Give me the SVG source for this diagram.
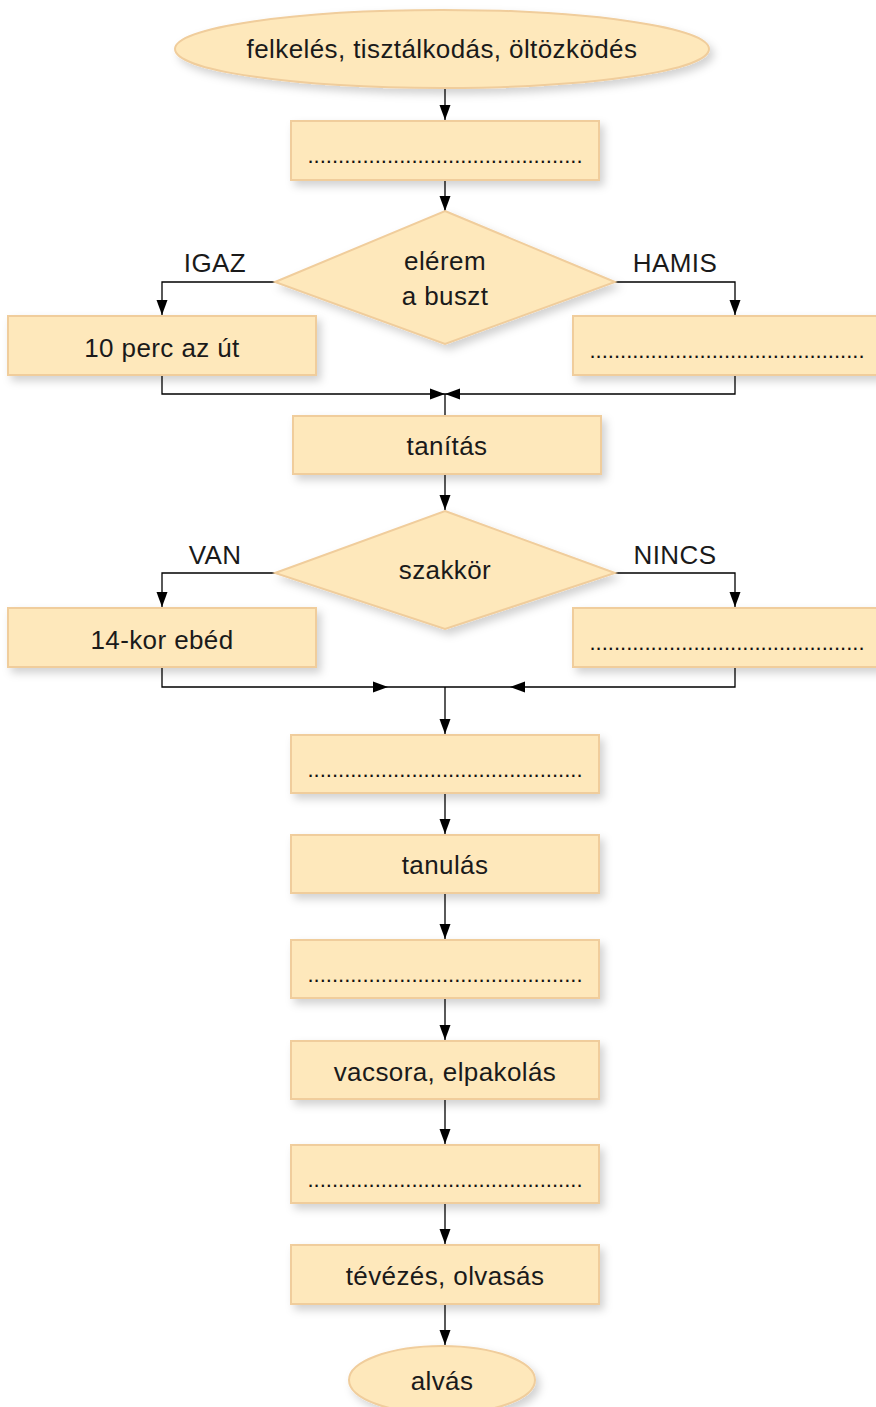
<svg xmlns="http://www.w3.org/2000/svg" width="876" height="1407" viewBox="0 0 876 1407">
<defs>
<filter id="sh" x="-10%" y="-20%" width="130%" height="160%">
<feDropShadow dx="4" dy="5" stdDeviation="4" flood-color="#000" flood-opacity="0.18"/>
</filter>
<marker id="ah" markerWidth="16" markerHeight="12" viewBox="0 0 15 12" refX="15" refY="6" orient="auto" markerUnits="userSpaceOnUse">
<path d="M0,0.5 L15,6 L0,11.5 Z" fill="#000"/>
</marker>
<style>
.n{fill:#fee8bb;stroke:#f0cd9c;stroke-width:2;filter:url(#sh)}
.t{font-family:"Liberation Sans",Arial,sans-serif;font-size:26px;letter-spacing:0.4px;fill:#1a1a1a;text-anchor:middle}
.d{font-family:"Liberation Sans",Arial,sans-serif;font-size:22px;fill:#111;text-anchor:middle}
.c{fill:none;stroke:#000;stroke-width:1.3}
</style>
</defs>
<rect width="876" height="1407" fill="#fff"/>
<g id="connectors">
<path class="c" d="M445,88 V120" marker-end="url(#ah)"/>
<path class="c" d="M445,180 V211" marker-end="url(#ah)"/>
<path class="c" d="M275,282 H162 V315" marker-end="url(#ah)"/>
<path class="c" d="M615,282 H735 V315" marker-end="url(#ah)"/>
<path class="c" d="M162,375 V394 H445" marker-end="url(#ah)"/>
<path class="c" d="M735,375 V394 H445" marker-end="url(#ah)"/>
<path class="c" d="M445,394 V416"/>
<path class="c" d="M445,474 V510" marker-end="url(#ah)"/>
<path class="c" d="M275,573 H162 V607" marker-end="url(#ah)"/>
<path class="c" d="M615,573 H735 V607" marker-end="url(#ah)"/>
<path class="c" d="M162,667 V687 H388" marker-end="url(#ah)"/>
<path class="c" d="M388,687 H445"/>
<path class="c" d="M735,667 V687 H510" marker-end="url(#ah)"/>
<path class="c" d="M510,687 H445"/>
<path class="c" d="M445,687 V734" marker-end="url(#ah)"/>
<path class="c" d="M445,793 V834" marker-end="url(#ah)"/>
<path class="c" d="M445,893 V939" marker-end="url(#ah)"/>
<path class="c" d="M445,998 V1040" marker-end="url(#ah)"/>
<path class="c" d="M445,1099 V1144" marker-end="url(#ah)"/>
<path class="c" d="M445,1203 V1244" marker-end="url(#ah)"/>
<path class="c" d="M445,1304 V1345" marker-end="url(#ah)"/>
</g>
<g id="start">
<ellipse class="n" cx="442" cy="49" rx="267" ry="39"/>
<text class="t" x="442" y="58">felkelés, tisztálkodás, öltözködés</text>
</g>
<g id="box1">
<rect class="n" x="291" y="121" width="308" height="59"/>
<text class="d" x="445" y="163">.............................................</text>
</g>
<g id="dec1">
<path class="n" d="M445,211 L615,282 L445,344 L275,282 Z"/>
<text class="t" x="445" y="270">elérem</text>
<text class="t" x="445" y="305">a buszt</text>
<text class="t" x="215" y="272">IGAZ</text>
<text class="t" x="675" y="272">HAMIS</text>
</g>
<g id="box-igaz">
<rect class="n" x="8" y="316" width="308" height="59"/>
<text class="t" x="162" y="357">10 perc az út</text>
</g>
<g id="box-hamis">
<rect class="n" x="573" y="316" width="308" height="59"/>
<text class="d" x="727" y="358">.............................................</text>
</g>
<g id="tanitas">
<rect class="n" x="293" y="416" width="308" height="58"/>
<text class="t" x="447" y="455">tanítás</text>
</g>
<g id="dec2">
<path class="n" d="M445,511 L615,573 L445,629 L275,573 Z"/>
<text class="t" x="445" y="579">szakkör</text>
<text class="t" x="215" y="564">VAN</text>
<text class="t" x="675" y="564">NINCS</text>
</g>
<g id="box-van">
<rect class="n" x="8" y="608" width="308" height="59"/>
<text class="t" x="162" y="649">14-kor ebéd</text>
</g>
<g id="box-nincs">
<rect class="n" x="573" y="608" width="308" height="59"/>
<text class="d" x="727" y="650">.............................................</text>
</g>
<g id="box2">
<rect class="n" x="291" y="735" width="308" height="58"/>
<text class="d" x="445" y="777">.............................................</text>
</g>
<g id="tanulas">
<rect class="n" x="291" y="835" width="308" height="58"/>
<text class="t" x="445" y="874">tanulás</text>
</g>
<g id="box3">
<rect class="n" x="291" y="940" width="308" height="58"/>
<text class="d" x="445" y="982">.............................................</text>
</g>
<g id="vacsora">
<rect class="n" x="291" y="1041" width="308" height="58"/>
<text class="t" x="445" y="1081">vacsora, elpakolás</text>
</g>
<g id="box4">
<rect class="n" x="291" y="1145" width="308" height="58"/>
<text class="d" x="445" y="1187">.............................................</text>
</g>
<g id="tevezes">
<rect class="n" x="291" y="1245" width="308" height="59"/>
<text class="t" x="445" y="1285">tévézés, olvasás</text>
</g>
<g id="end">
<ellipse class="n" cx="442" cy="1380" rx="93" ry="34"/>
<text class="t" x="442" y="1390">alvás</text>
</g>
</svg>
